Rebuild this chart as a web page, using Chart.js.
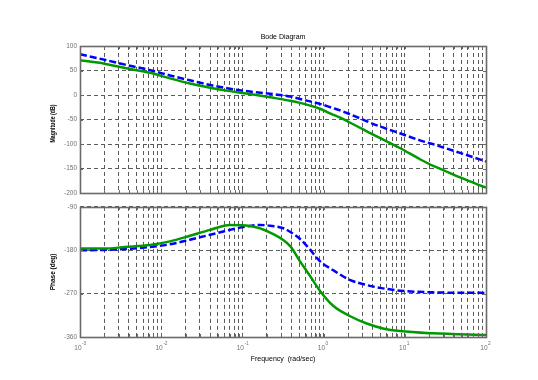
<!DOCTYPE html>
<html><head><meta charset="utf-8">
<script src="https://cdn.jsdelivr.net/npm/chart.js@4/dist/chart.umd.min.js"></script>
<style>
html,body{margin:0;padding:0;background:#fff;}
#wrap{position:relative;width:538px;height:380px;overflow:hidden;background:#fff}
canvas{position:absolute;left:0}
#c1{top:0}
#c2{top:200px}
</style></head><body>
<div id="wrap"><canvas id="c1" width="538" height="200"></canvas><canvas id="c2" width="538" height="180"></canvas></div>
<script>
// ---- data ----
const magFreq  = [0.001,0.002,0.0036,0.0073,0.0128,0.0226,0.04,0.07,0.124,0.22,0.39,0.51,0.68,0.9,1.3,1.6,2.1,2.8,3.4,5,8.7,15.4,22,27,48,100];
const magBlue  = [83,72,62,50.7,40,30,20.5,13,7,2.5,-3,-8,-13,-18,-26.5,-31.3,-39,-47.5,-53.5,-64.5,-78,-92.5,-100,-104.7,-118,-135.5];
const magGreen = [71,64,55,45.3,34,23.5,15,8,2,-4.7,-11.8,-16,-21.5,-28,-40,-46,-56,-66.7,-74,-88,-108,-131,-144,-150,-168,-189];

const phFreqBlue = [0.001,0.002,0.0036,0.0073,0.0128,0.0226,0.04,0.07,0.124,0.165,0.22,0.32,0.39,0.51,0.68,0.9,1.3,2.1,3.4,5.4,8.7,22,100];
const phBlue     = [-180,-179.3,-177.3,-173.2,-167.7,-158.1,-147.9,-137.7,-129.5,-127.5,-129,-134.3,-142,-156,-178.6,-202.5,-220.9,-241.3,-252.2,-259.1,-263.8,-267.3,-268.5];
const phFreqGreen = [0.001,0.002,0.0036,0.0073,0.0128,0.0226,0.04,0.07,0.124,0.22,0.39,0.51,0.68,0.9,1.3,2.1,3.4,5.4,8.7,22,100];
const phGreen     = [-176.5,-176.5,-173.2,-169.1,-161.6,-150,-137.7,-127.5,-129.5,-143.2,-171.8,-202.5,-233.2,-263.8,-294.5,-316.4,-332,-342.2,-347.7,-352.4,-355.9];

const magTicks = [100,50,0,-50,-100,-150,-200];
const phTicks  = [-90,-180,-270,-360];
const decades  = [-3,-2,-1,0,1,2];

const titleText = 'Bode Diagram';
const magLabel = 'Magnitude (dB)';
const phLabel = 'Phase (deg)';
const freqLabel = 'Frequency  (rad/sec)';

// ---- helpers ----
function pts(xs, ys){ return xs.map((x,i)=>({x:x, y:ys[i]})); }
function logTicks(){
  const t=[];
  for(let e=-3;e<2;e++){ for(let k=1;k<10;k++){ t.push({value:k*Math.pow(10,e)}); } }
  t.push({value:100});
  return t;
}
const FONT = '"Liberation Sans", Arial, sans-serif';
const GREEN = '#009a00', BLUE = '#0000ff', GRID = '#5a5a5a', BOX = '#6a6a6a', TICKC = '#707070';

const boxPlugin = {
  id:'box',
  afterDraw(chart){
    const ctx=chart.ctx, a=chart.chartArea, sx=chart.scales.x, sy=chart.scales.y;
    ctx.save();
    ctx.setLineDash([]);
    ctx.strokeStyle=BOX; ctx.lineWidth=1;
    sx.ticks.forEach(t=>{
      const px=Math.round(sx.getPixelForValue(t.value))+0.5;
      ctx.beginPath();
      ctx.moveTo(px,a.top); ctx.lineTo(px,a.top+3);
      ctx.moveTo(px,a.bottom); ctx.lineTo(px,a.bottom-3);
      ctx.stroke();
    });
    sy.ticks.forEach(t=>{
      const py=Math.round(sy.getPixelForValue(t.value))+0.5;
      ctx.beginPath();
      ctx.moveTo(a.left,py); ctx.lineTo(a.left+3,py);
      ctx.moveTo(a.right,py); ctx.lineTo(a.right-3,py);
      ctx.stroke();
    });
    ctx.lineWidth=1.6;
    ctx.strokeRect(Math.round(a.left)+0.5, Math.round(a.top)+0.5, Math.round(a.right-a.left), Math.round(a.bottom-a.top));
    ctx.restore();
  }
};

function drawFitted(ctx, text, x, y, font, color, maxW, rot){
  ctx.save();
  ctx.font=font; ctx.fillStyle=color; ctx.textAlign='center'; ctx.textBaseline='middle';
  ctx.translate(x,y);
  if(rot) ctx.rotate(-Math.PI/2);
  const w=ctx.measureText(text).width;
  if(maxW && w>maxW) ctx.scale(maxW/w,1);
  ctx.fillText(text,0,0);
  ctx.restore();
}

const textTop = {
  id:'textTop',
  afterDraw(chart){
    const ctx=chart.ctx, a=chart.chartArea;
    drawFitted(ctx, titleText, (a.left+a.right)/2, 37.5, '7px '+FONT, '#000', 0, false);
    drawFitted(ctx, magLabel, 53, (a.top+a.bottom)/2+4, 'bold 6.5px '+FONT, '#000', 38, true);
  }
};
const textBottom = {
  id:'textBottom',
  afterDraw(chart){
    const ctx=chart.ctx, a=chart.chartArea, sx=chart.scales.x;
    drawFitted(ctx, phLabel, 53, (a.top+a.bottom)/2, 'bold 6.5px '+FONT, '#000', 38, true);
    ctx.save();
    ctx.fillStyle=TICKC; ctx.textBaseline='alphabetic';
    decades.forEach(e=>{
      const px=sx.getPixelForValue(Math.pow(10,e));
      ctx.font='6.5px '+FONT; ctx.textAlign='right';
      ctx.fillText('10', px+1.5, 149.5);
      ctx.font='4.8px '+FONT; ctx.textAlign='left';
      ctx.fillText(String(e), px+2, 145);
    });
    ctx.restore();
    drawFitted(ctx, freqLabel, (a.left+a.right)/2, 159, '7px '+FONT, '#000', 0, false);
  }
};

function xScale(){
  return {
    type:'logarithmic', min:0.001, max:100,
    afterBuildTicks(s){ s.ticks = logTicks(); },
    ticks:{display:false, autoSkip:false},
    grid:{color:GRID, lineWidth:1, drawTicks:false},
    border:{display:false, dash:[4,3]},
    afterFit(s){ s.height = s.chart.canvas.id==='c1' ? 4 : 43; }
  };
}
function yScale(min,max,ticks){
  return {
    type:'linear', min:min, max:max,
    afterBuildTicks(s){ s.ticks = ticks.map(v=>({value:v})); },
    ticks:{color:TICKC, font:{size:6.5, family:FONT}, padding:3, autoSkip:false},
    grid:{color:GRID, lineWidth:1, drawTicks:false},
    border:{display:false, dash:[4,3]},
    afterFit(s){ s.width = 80; }
  };
}
function ds(data,color,dash,w){
  return {data:data, borderColor:color, backgroundColor:color, borderWidth:w, borderDash:dash, pointRadius:0, fill:false, cubicInterpolationMode:'monotone', borderCapStyle:'butt'};
}
const common = {
  responsive:false, animation:false, devicePixelRatio:1,
  plugins:{legend:{display:false}, tooltip:{enabled:false}, title:{display:false}},
  events:[]
};

new Chart(document.getElementById('c1'), {
  type:'line',
  data:{datasets:[ ds(pts(magFreq,magGreen),GREEN,[],2.5), ds(pts(magFreq,magBlue),BLUE,[7,3],2.5) ]},
  options:Object.assign({}, common, {
    layout:{padding:{left:0,right:52,top:46,bottom:0}},
    scales:{x:xScale(), y:yScale(-200,100,magTicks)}
  }),
  plugins:[boxPlugin,textTop]
});
new Chart(document.getElementById('c2'), {
  type:'line',
  data:{datasets:[ ds(pts(phFreqGreen,phGreen),GREEN,[],2.5), ds(pts(phFreqBlue,phBlue),BLUE,[7,3],2.5) ]},
  options:Object.assign({}, common, {
    layout:{padding:{left:0,right:52,top:5,bottom:0}},
    scales:{x:xScale(), y:yScale(-360,-90,phTicks)}
  }),
  plugins:[boxPlugin,textBottom]
});
</script>
</body></html>
